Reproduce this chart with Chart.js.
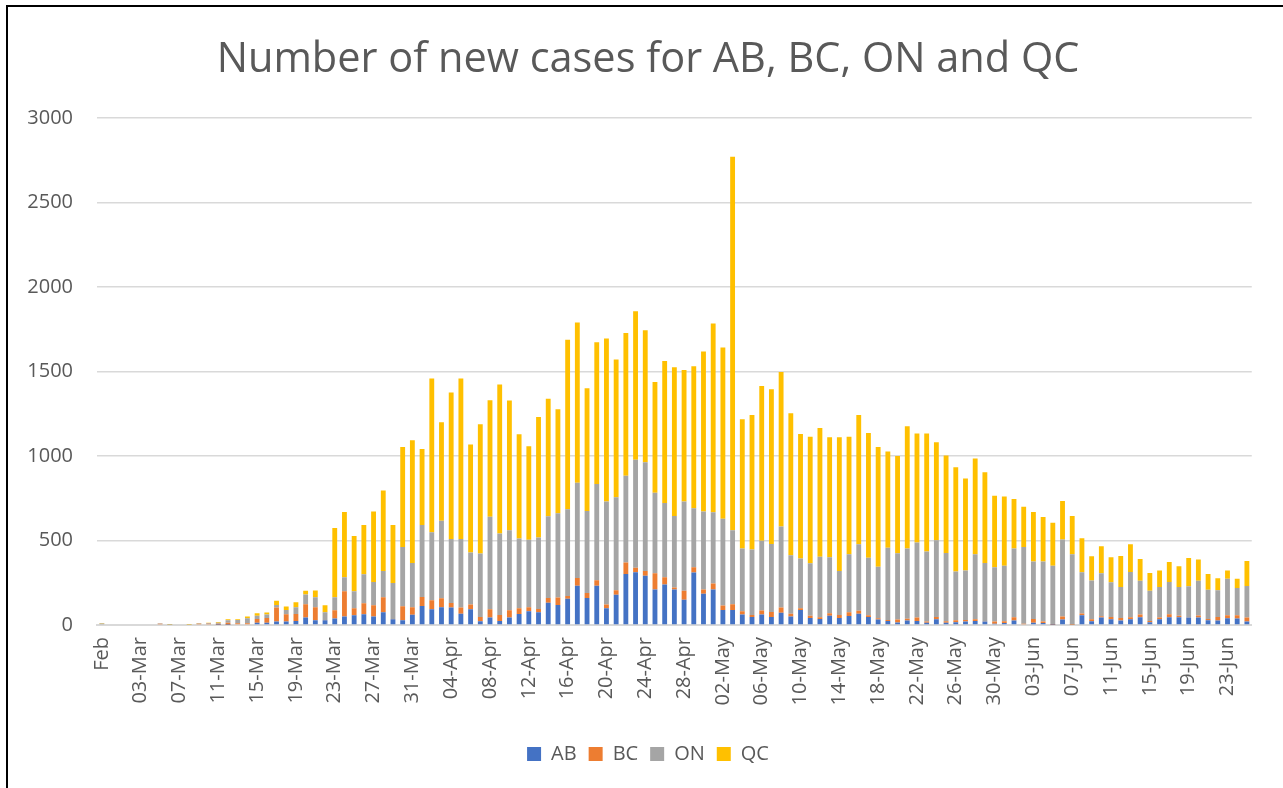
<!DOCTYPE html>
<html>
<head>
<meta charset="utf-8">
<script src="https://cdn.jsdelivr.net/npm/chart.js@4.4.1/dist/chart.umd.min.js"></script>
<style>
  html, body { margin: 0; padding: 0; background: #ffffff; overflow: hidden; }
  #wrap { position: relative; width: 1283px; height: 788px; }
  #frame { position: absolute; left: 6px; top: 5px; width: 1300px; height: 820px; border: 2px solid #000; box-sizing: border-box; pointer-events: none; }
  canvas { position: absolute; left: 0; top: 0; }
</style>
</head>
<body>
<div id="wrap">
  <canvas id="c" width="1283" height="788"></canvas>
  <div id="frame"></div>
</div>
<script>
const titleText = "Number of new cases for AB, BC, ON and QC";
const seriesNames = ["AB", "BC", "ON", "QC"];
const categories = [
  "Feb","29-Feb",
  "01-Mar","02-Mar","03-Mar","04-Mar","05-Mar","06-Mar","07-Mar","08-Mar","09-Mar","10-Mar",
  "11-Mar","12-Mar","13-Mar","14-Mar","15-Mar","16-Mar","17-Mar","18-Mar","19-Mar","20-Mar",
  "21-Mar","22-Mar","23-Mar","24-Mar","25-Mar","26-Mar","27-Mar","28-Mar","29-Mar","30-Mar","31-Mar",
  "01-Apr","02-Apr","03-Apr","04-Apr","05-Apr","06-Apr","07-Apr","08-Apr","09-Apr","10-Apr",
  "11-Apr","12-Apr","13-Apr","14-Apr","15-Apr","16-Apr","17-Apr","18-Apr","19-Apr","20-Apr",
  "21-Apr","22-Apr","23-Apr","24-Apr","25-Apr","26-Apr","27-Apr","28-Apr","29-Apr","30-Apr",
  "01-May","02-May","03-May","04-May","05-May","06-May","07-May","08-May","09-May","10-May",
  "11-May","12-May","13-May","14-May","15-May","16-May","17-May","18-May","19-May","20-May",
  "21-May","22-May","23-May","24-May","25-May","26-May","27-May","28-May","29-May","30-May","31-May",
  "01-Jun","02-Jun","03-Jun","04-Jun","05-Jun","06-Jun","07-Jun","08-Jun","09-Jun","10-Jun",
  "11-Jun","12-Jun","13-Jun","14-Jun","15-Jun","16-Jun","17-Jun","18-Jun","19-Jun","20-Jun",
  "21-Jun","22-Jun","23-Jun","24-Jun","25-Jun"
];
const yTicks = [0, 500, 1000, 1500, 2000, 2500, 3000];

const AB = [0,0,0,0,0,0,0,0,0,0, 0,0,1,2,4,4,14,14,20,20, 24,45,28,28,38,51,57,63,51,75,
  34,28,61,113,93,105,103,67,93,22, 45,24,45,65,81,75,131,119,155,232,
  159,232,99,179,302,312,292,210,240,210, 149,310,185,210,89,89,62,48,62,48,
  73,51,88,42,35,55,42,53,66,48, 33,24,15,26,24,13,34,14,16,20,
  24,20,8,12,26,4,14,12,2,32, 0,58,22,44,34,26,34,46,16,34,
  46,46,44,44,28,26,40,38,20];
const BC = [4,0,0,0,0,0,8,0,0,0, 7,8,6,12,6,6,22,28,83,43, 41,77,77,2,49,149,42,65,66,89,
  2,83,44,53,53,53,27,36,28,25, 48,35,42,34,24,20,28,44,16,46,
  30,32,22,27,67,27,28,96,42,12, 53,31,25,36,26,34,19,11,24,29,
  30,15,11,13,11,15,17,22,18,9, 7,5,18,11,20,7,14,8,12,10,
  10,2,12,10,20,4,22,8,4,18, 2,10,12,8,14,16,12,16,8,10,
  18,8,2,12,8,22,18,20,24];
const ON = [5,0,0,0,0,0,2,2,0,3, 3,4,7,14,20,30,19,20,16,26, 40,59,59,45,77,83,101,172,138,156,
  213,351,261,425,403,459,378,405,308,376, 547,482,474,413,399,423,484,498,514,564,
  486,570,609,550,514,638,643,476,439,423, 528,350,461,421,514,437,372,387,413,402,
  479,347,294,310,358,330,260,343,393,341, 305,428,391,416,444,415,453,404,288,292,
  384,344,322,328,406,454,340,356,344,455, 416,244,229,254,205,183,268,199,179,181,
  191,171,183,205,173,157,215,161,187];
const QC = [3,0,0,0,0,0,0,2,0,3, 2,2,4,6,4,10,14,12,24,20, 30,22,40,42,409,385,326,291,417,476,
  342,591,727,450,909,582,867,950,638,765, 690,882,767,616,553,713,695,615,1002,947,
  726,839,965,814,844,879,780,655,841,879, 779,839,947,1116,1013,2210,764,796,914,915,
  915,840,737,749,761,710,791,696,765,738, 708,569,576,723,644,697,580,577,617,544,
  567,537,422,410,294,238,293,263,255,229, 227,201,143,160,147,183,164,129,105,97,
  117,123,167,127,93,72,49,54,147];

const colors = ["#4472C4", "#ED7D31", "#A5A5A5", "#FFC000"];
const values = [AB, BC, ON, QC];
const textColor = "#595959";
const font = "'Open Sans', 'DejaVu Sans', sans-serif";

new Chart(document.getElementById("c"), {
  type: "bar",
  data: {
    labels: categories,
    datasets: seriesNames.map((n, k) => ({
      label: n,
      data: values[k],
      backgroundColor: colors[k],
      borderWidth: 0,
      barPercentage: 0.5,
      categoryPercentage: 1.0,
      yAxisID: "y"
    }))
  },
  options: {
    responsive: false,
    animation: false,
    layout: { padding: { left: 23, right: 10, top: 35, bottom: 14 } },
    plugins: {
      title: {
        display: true, text: titleText, color: textColor,
        font: { family: font, size: 41.5, weight: "normal" },
        padding: { top: 0, bottom: 33 }
      },
      legend: {
        position: "bottom",
        labels: { boxWidth: 14, boxHeight: 14, padding: 12, color: textColor,
          font: { family: font, size: 20 } }
      },
      tooltip: { enabled: false }
    },
    scales: {
      x: {
        stacked: true,
        grid: { display: false, drawTicks: false },
        border: { color: "#D9D9D9", width: 2 },
        ticks: {
          autoSkip: false, minRotation: 90, maxRotation: 90, padding: 12,
          color: textColor, font: { family: font, size: 20 },
          callback: function (v, i) { return i % 4 === 0 ? categories[i] : ""; }
        },
        afterFit: function (s) { s.height = 107; }
      },
      y: {
        stacked: true, min: yTicks[0], max: yTicks[yTicks.length - 1],
        afterBuildTicks: function (s) { s.ticks = yTicks.map(v => ({ value: v })); },
        grid: { color: "#D9D9D9", lineWidth: 1.5, drawTicks: false },
        border: { display: false },
        ticks: { padding: 24, color: textColor, font: { family: font, size: 20 },
          callback: function (v) { return String(v); } },
        afterFit: function (s) { s.width = 74; }
      },
      yRight: {
        position: "right", display: true,
        grid: { display: false, drawTicks: false },
        border: { display: false },
        ticks: { display: false },
        afterFit: function (s) { s.width = 15; }
      }
    }
  }
});
</script>
</body>
</html>
